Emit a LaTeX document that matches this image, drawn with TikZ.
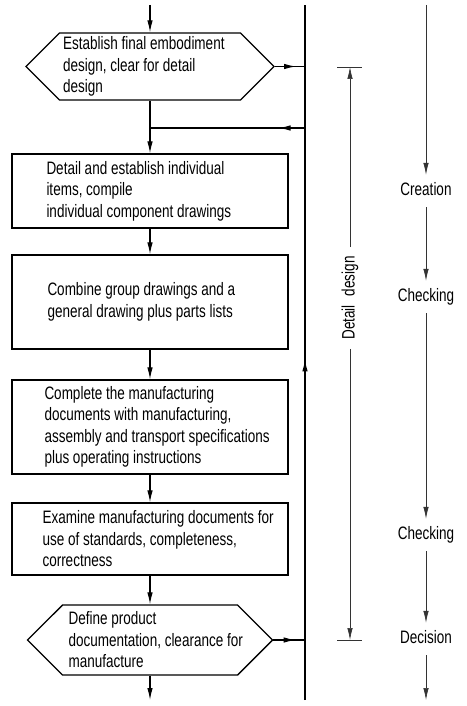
\documentclass[tikz,border=0pt]{standalone}
\usepackage{fontspec}
\setmainfont[FakeStretch=0.75]{Liberation Sans}
\usetikzlibrary{arrows.meta,positioning,shapes.symbols,decorations.markings}

\tikzset{
  flow/.style={-{Latex[length=12pt,width=5.5pt]}},
  midarrow/.style={postaction={decorate,decoration={markings,
      mark=at position #1 with {\arrow{Latex[length=12pt,width=5.5pt]}}}}},
  stepframe/.style={draw,line width=1.4pt,minimum width=276pt,inner sep=0pt},
  hexa/.style={draw,line width=1.4pt,signal,signal to=west and east,
      signal pointer angle=90,inner sep=0pt},
  steptext/.style={anchor=west,inner sep=0pt,align=left,
      font=\fontsize{18}{21.5}\selectfont},
  phase/.style={font=\fontsize{18}{21.5}\selectfont,text height=13pt,
      text depth=4pt,minimum height=32pt,inner sep=0pt},
  conn/.style={line width=1.1pt},
  dim/.style={line width=0.7pt,black!80},
}

\begin{document}
\begin{tikzpicture}[x=1pt,y=-1pt]
  \useasboundingbox (0,0) rectangle (466,706);

  % main chain of steps
  \coordinate (in) at (150,5);
  \coordinate (out) at (150,700);
  \node[hexa,minimum width=248pt,minimum height=67pt] (h1) at (150,66.5) {};
  \node[stepframe,minimum height=74pt] (b1) at (150,191) {};
  \node[stepframe,minimum height=94pt] (b2) at (150,302) {};
  \node[stepframe,minimum height=94pt] (b3) at (150,427) {};
  \node[stepframe,minimum height=72pt] (b4) at (150,539) {};
  \node[hexa,minimum width=245pt,minimum height=70pt] (h2) at (150,640) {};

  \node[steptext,right=38pt of h1.west] (h1t) {Establish final embodiment\\design, clear for detail\\design};
  \node[steptext,right=35pt of b1.west] (b1t) {Detail and establish individual\\items, compile\\individual component drawings};
  \node[steptext,right=36pt of b2.west] (b2t) {Combine group drawings and a\\general drawing plus parts lists};
  \node[steptext,right=33pt of b3.west] (b3t) {Complete the manufacturing\\documents with manufacturing,\\assembly and transport specifications\\plus operating instructions};
  \node[steptext,right=31pt of b4.west] (b4t) {Examine manufacturing documents for\\use of standards, completeness,\\correctness};
  \node[steptext,right=42pt of h2.west] (h2t) {Define product\\documentation, clearance for\\manufacture};

  \draw[conn,flow] (in) -- (h1);
  \draw[conn,flow] (h1) -- (b1);
  \draw[conn,flow] (b1) -- (b2);
  \draw[conn,flow] (b2) -- (b3);
  \draw[conn,flow] (b3) -- (b4);
  \draw[conn,flow] (b4) -- (h2);
  \draw[conn,flow] (h2) -- (out);

  % feedback line
  \coordinate (fbtop) at (305,5);
  \coordinate (fbbot) at (305,700);
  \coordinate (fbin) at (305,128);
  \draw[line width=1.3pt,midarrow=0.49] (fbbot) -- (fbtop);
  \draw[conn,midarrow=0.7] (h1.east) -- (h1.east -| fbtop);
  \draw[conn,midarrow=0.7] (h2.east) -- (h2.east -| fbtop);
  \draw[conn,midarrow=0.17] (fbin) -- (fbin -| h1);

  % extent of the detail design phase
  \coordinate (dtop) at (350,67);
  \coordinate (dbot) at (350,640);
  \node[font=\fontsize{18}{21.5}\selectfont,rotate=90,inner xsep=9pt] (dlabel) at (350,298) {Detail\hspace{9pt}design};
  \draw[dim,flow] (dlabel.east) -- (dtop);
  \draw[dim,flow] (dlabel.west) -- (dbot);
  \draw[dim] ([xshift=-13pt]dtop) -- ([xshift=12pt]dtop);
  \draw[dim] ([xshift=-13pt]dbot) -- ([xshift=12pt]dbot);

  % working steps on the right
  \coordinate (ptop) at (426,5);
  \coordinate (pbot) at (426,700);
  \node[phase] (creation) at (426,191) {Creation};
  \node[phase] (check1) at (426,297) {Checking};
  \node[phase] (check2) at (426,535) {Checking};
  \node[phase] (decision) at (426,639) {Decision};
  \draw[dim,flow] (ptop) -- (creation);
  \draw[dim,flow] (creation) -- (check1);
  \draw[dim,flow] (check1) -- (check2);
  \draw[dim,flow] (check2) -- (decision);
  \draw[dim,flow] (decision) -- (pbot);
\end{tikzpicture}
\end{document}
